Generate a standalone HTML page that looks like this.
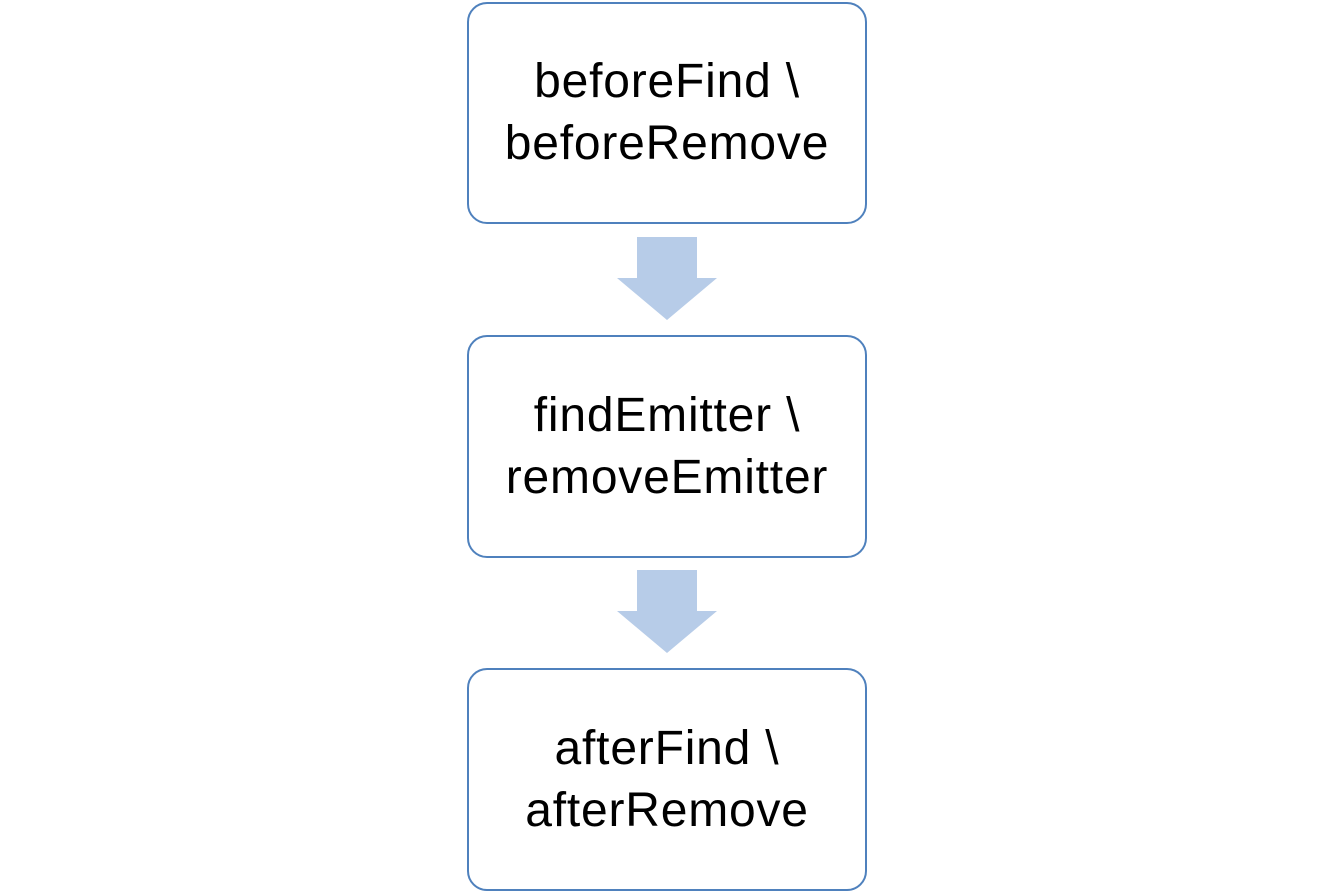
<!DOCTYPE html>
<html><head><style>
body{margin:0;width:1334px;height:891px;background:#fff;position:relative;overflow:hidden;font-family:"Liberation Sans",sans-serif}
.b{position:absolute;left:467px;width:396px;border:2px solid #4f81bd;border-radius:20px;background:#fff;display:flex;align-items:center;justify-content:center;text-align:center;font-size:48px;letter-spacing:0.8px;line-height:62px;color:#000}
</style></head><body>
<div class="b" style="top:2px;height:218px">beforeFind \<br>beforeRemove</div>
<div class="b" style="top:335px;height:219px">findEmitter \<br>removeEmitter</div>
<div class="b" style="top:668px;height:219px">afterFind \<br>afterRemove</div>
<svg width="1334" height="891" style="position:absolute;left:0;top:0">
<polygon points="637,237 697,237 697,278 717,278 667,320 617,278 637,278" fill="#b7cce8"/>
<polygon points="637,570 697,570 697,611 717,611 667,653 617,611 637,611" fill="#b7cce8"/>
</svg>
</body></html>
